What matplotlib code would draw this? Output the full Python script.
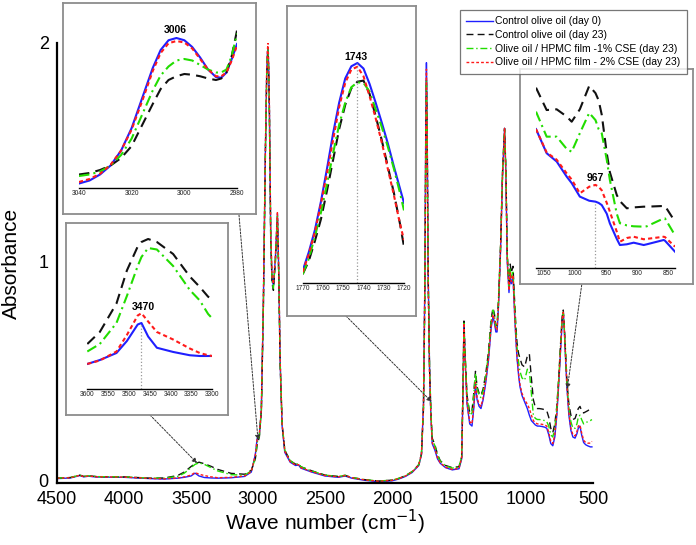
import numpy as np
import matplotlib
matplotlib.use('Agg')
import matplotlib.pyplot as plt

plt.rcParams['font.family'] = ['Liberation Sans', 'DejaVu Sans']

W, H = 696, 545

labels = ['Control olive oil (day 0)',
          'Control olive oil (day 23)',
          'Olive oil / HPMC film -1% CSE (day 23)',
          'Olive oil / HPMC film - 2% CSE (day 23)']
colors = ['#1f1fff', '#111111', '#22dd00', '#ff1a1a']
styles = ['-', (0, (5, 3)), (0, (5, 2, 1, 2)), (0, (2, 1.5))]

# full spectrum (wavenumber, absorbance) - blue, black, green, red
wn = [4500, 4400, 4330, 4300, 4265, 4200, 4000, 3800, 3700, 3600, 3550, 3500, 3470, 3440,
      3400, 3350, 3300, 3200, 3100, 3050, 3020, 3006, 2990, 2975, 2960, 2945, 2935, 2930, 2925,
      2920, 2915, 2905, 2895, 2885, 2870, 2855, 2845, 2835, 2820, 2800, 2760, 2720, 2697, 2680,
      2600, 2500, 2400, 2350, 2300, 2200, 2100, 2000, 1950, 1900, 1850, 1800, 1780, 1765,
      1755, 1748, 1743, 1738, 1730, 1720, 1710, 1700, 1680, 1660, 1640, 1600, 1550, 1500,
      1480, 1470, 1463, 1455, 1440, 1420, 1403, 1390, 1377, 1365, 1350, 1336, 1320, 1300,
      1280, 1260, 1246, 1235, 1225, 1216, 1205, 1190, 1175, 1160, 1150, 1140, 1127, 1118,
      1110, 1097, 1085, 1075, 1067, 1055, 1045, 1030, 1010, 990, 975, 960, 945, 930, 915,
      900, 880, 860, 845, 830, 815, 800, 785, 770, 755, 740, 730, 722, 715, 705, 694, 680,
      665, 650, 634, 620, 610, 597, 585, 570, 555, 540, 520, 508]

abs_day0 = [0.010, 0.013, 0.024, 0.018, 0.021, 0.017, 0.016, 0.010, 0.008, 0.012, 0.016, 0.022, 0.035, 0.022,
            0.015, 0.013, 0.012, 0.014, 0.020, 0.040, 0.120, 0.195, 0.210, 0.320, 0.800, 1.500, 1.860, 1.950, 1.980,
            1.880, 1.700, 1.120, 0.920, 0.890, 1.020, 1.220, 0.950, 0.550, 0.250, 0.130, 0.085, 0.070, 0.072, 0.058,
            0.040, 0.022, 0.016, 0.022, 0.012, 0.002, -0.004, 0.000, 0.008, 0.020, 0.038, 0.070, 0.120, 0.350,
            0.900, 1.620, 1.910, 1.650, 0.950, 0.520, 0.300, 0.170, 0.140, 0.100, 0.080, 0.060, 0.050, 0.055,
            0.100, 0.420, 0.720, 0.560, 0.350, 0.260, 0.250, 0.330, 0.440, 0.370, 0.340, 0.330, 0.370, 0.450,
            0.550, 0.700, 0.750, 0.720, 0.680, 0.680, 0.800, 1.050, 1.400, 1.610, 1.400, 1.000, 0.860, 0.940,
            0.900, 0.930, 0.760, 0.640, 0.560, 0.480, 0.430, 0.390, 0.360, 0.330, 0.300, 0.275, 0.265, 0.255, 0.250,
            0.250, 0.248, 0.245, 0.240, 0.210, 0.170, 0.160, 0.200, 0.300, 0.450, 0.620, 0.730, 0.770, 0.700, 0.560, 0.420, 0.300,
            0.230, 0.200, 0.195, 0.215, 0.240, 0.250, 0.210, 0.175, 0.165, 0.160, 0.155, 0.155]

abs_day23 = [0.012, 0.015, 0.026, 0.020, 0.023, 0.019, 0.018, 0.012, 0.013, 0.024, 0.040, 0.065, 0.078, 0.085,
             0.078, 0.066, 0.052, 0.034, 0.030, 0.048, 0.100, 0.165, 0.200, 0.320, 0.790, 1.480, 1.840, 1.930, 1.960,
             1.860, 1.680, 1.100, 0.900, 0.870, 1.000, 1.200, 0.930, 0.540, 0.260, 0.140, 0.092, 0.076, 0.078, 0.064,
             0.046, 0.026, 0.020, 0.025, 0.015, 0.005, -0.001, 0.003, 0.011, 0.023, 0.042, 0.074, 0.125, 0.330,
             0.850, 1.530, 1.830, 1.600, 0.920, 0.520, 0.320, 0.195, 0.165, 0.120, 0.092, 0.070, 0.060, 0.065,
             0.110, 0.430, 0.730, 0.590, 0.390, 0.310, 0.320, 0.400, 0.500, 0.430, 0.400, 0.390, 0.420, 0.490,
             0.590, 0.740, 0.790, 0.760, 0.710, 0.710, 0.830, 1.070, 1.410, 1.610, 1.420, 1.040, 0.900, 0.990,
             0.950, 0.980, 0.820, 0.700, 0.630, 0.580, 0.560, 0.530, 0.520, 0.570, 0.580, 0.470, 0.370, 0.335, 0.330,
             0.330, 0.328, 0.325, 0.320, 0.290, 0.240, 0.220, 0.260, 0.340, 0.480, 0.650, 0.750, 0.780, 0.720, 0.590, 0.450, 0.350,
             0.300, 0.280, 0.285, 0.310, 0.330, 0.340, 0.320, 0.310, 0.315, 0.320, 0.328, 0.335]

abs_cse1 = [0.012, 0.015, 0.026, 0.020, 0.023, 0.019, 0.018, 0.012, 0.012, 0.020, 0.035, 0.060, 0.075, 0.082,
            0.075, 0.060, 0.045, 0.028, 0.026, 0.045, 0.105, 0.175, 0.205, 0.320, 0.800, 1.490, 1.850, 1.940, 1.970,
            1.870, 1.690, 1.110, 0.910, 0.880, 1.010, 1.210, 0.940, 0.550, 0.260, 0.140, 0.092, 0.075, 0.078, 0.064,
            0.045, 0.026, 0.020, 0.025, 0.015, 0.005, -0.001, 0.003, 0.011, 0.023, 0.042, 0.074, 0.125, 0.340,
            0.860, 1.540, 1.830, 1.620, 0.950, 0.530, 0.320, 0.190, 0.160, 0.115, 0.090, 0.068, 0.058, 0.063,
            0.110, 0.430, 0.720, 0.580, 0.380, 0.300, 0.310, 0.390, 0.490, 0.420, 0.390, 0.380, 0.410, 0.480,
            0.580, 0.730, 0.780, 0.750, 0.700, 0.700, 0.820, 1.070, 1.410, 1.610, 1.410, 1.030, 0.890, 0.970,
            0.930, 0.960, 0.800, 0.680, 0.610, 0.540, 0.500, 0.470, 0.460, 0.510, 0.500, 0.400, 0.300, 0.285, 0.280,
            0.280, 0.278, 0.275, 0.270, 0.250, 0.210, 0.200, 0.240, 0.330, 0.470, 0.640, 0.740, 0.770, 0.710, 0.580, 0.440, 0.330,
            0.270, 0.240, 0.240, 0.260, 0.290, 0.300, 0.280, 0.260, 0.265, 0.270, 0.275, 0.280]

abs_cse2 = [0.012, 0.014, 0.025, 0.019, 0.022, 0.018, 0.017, 0.011, 0.009, 0.013, 0.018, 0.026, 0.038, 0.030,
            0.024, 0.018, 0.014, 0.016, 0.022, 0.042, 0.118, 0.192, 0.210, 0.330, 0.820, 1.520, 1.880, 1.970, 2.000,
            1.900, 1.720, 1.140, 0.930, 0.900, 1.030, 1.230, 0.960, 0.560, 0.260, 0.135, 0.088, 0.072, 0.074, 0.060,
            0.042, 0.024, 0.018, 0.024, 0.014, 0.004, -0.002, 0.002, 0.010, 0.022, 0.040, 0.072, 0.122, 0.350,
            0.900, 1.600, 1.880, 1.620, 0.920, 0.500, 0.300, 0.175, 0.145, 0.105, 0.082, 0.062, 0.052, 0.057,
            0.105, 0.420, 0.720, 0.560, 0.355, 0.270, 0.260, 0.340, 0.450, 0.380, 0.350, 0.340, 0.380, 0.460,
            0.560, 0.710, 0.760, 0.730, 0.690, 0.690, 0.810, 1.060, 1.400, 1.610, 1.400, 1.010, 0.870, 0.950,
            0.910, 0.940, 0.770, 0.650, 0.570, 0.490, 0.440, 0.400, 0.370, 0.350, 0.330, 0.300, 0.275, 0.265, 0.260,
            0.260, 0.258, 0.255, 0.250, 0.220, 0.180, 0.170, 0.210, 0.310, 0.460, 0.630, 0.740, 0.770, 0.710, 0.570, 0.430, 0.310,
            0.240, 0.210, 0.205, 0.225, 0.250, 0.255, 0.220, 0.185, 0.175, 0.172, 0.172, 0.180]

# inset 1: 3006 region (relative absorbance)
i1_wn = [3040, 3036, 3032, 3028, 3024, 3020, 3016, 3012, 3009, 3006, 3003, 3000, 2997, 2994,
         2991, 2988, 2986, 2984, 2982, 2980]
i1_day0 = [0.03, 0.05, 0.09, 0.15, 0.25, 0.40, 0.60, 0.80, 0.92, 0.985, 1.0, 0.985, 0.94, 0.87,
           0.79, 0.74, 0.735, 0.77, 0.86, 0.96]
i1_day23 = [0.09, 0.10, 0.12, 0.15, 0.20, 0.28, 0.42, 0.56, 0.66, 0.72, 0.745, 0.76, 0.755, 0.745,
            0.73, 0.72, 0.73, 0.77, 0.88, 1.05]
i1_cse1 = [0.08, 0.09, 0.11, 0.15, 0.22, 0.33, 0.49, 0.65, 0.75, 0.81, 0.85, 0.86, 0.85, 0.82,
           0.79, 0.77, 0.77, 0.79, 0.88, 1.03]
i1_cse2 = [0.04, 0.06, 0.095, 0.155, 0.25, 0.39, 0.58, 0.78, 0.90, 0.965, 0.98, 0.97, 0.93, 0.86,
           0.79, 0.745, 0.745, 0.77, 0.85, 0.95]

# inset 2: 3470 region
i2_wn = [3600, 3570, 3530, 3505, 3479, 3470, 3454, 3433, 3394, 3354, 3330, 3310, 3300]
i2_day0 = [0.167, 0.193, 0.24, 0.32, 0.43, 0.44, 0.35, 0.275, 0.247, 0.225, 0.22, 0.22, 0.22]
i2_day23 = [0.30, 0.38, 0.57, 0.79, 0.95, 0.98, 1.00, 0.98, 0.90, 0.75, 0.68, 0.615, 0.60]
i2_cse1 = [0.25, 0.30, 0.44, 0.62, 0.82, 0.88, 0.94, 0.93, 0.82, 0.66, 0.59, 0.50, 0.47]
i2_cse2 = [0.167, 0.19, 0.25, 0.36, 0.49, 0.505, 0.45, 0.38, 0.33, 0.27, 0.24, 0.225, 0.22]

# inset 3: 1743 region
i3_wn = [1770, 1767, 1764, 1761, 1758, 1755, 1752, 1749, 1746, 1743, 1740, 1737, 1734, 1731,
         1728, 1725, 1722, 1720]
i3_day0 = [0.056, 0.14, 0.24, 0.37, 0.52, 0.68, 0.82, 0.93, 0.985, 1.0, 0.975, 0.905, 0.82, 0.73,
           0.635, 0.53, 0.43, 0.364]
i3_day23 = [0.04, 0.10, 0.19, 0.29, 0.42, 0.56, 0.70, 0.81, 0.885, 0.915, 0.92, 0.86, 0.76, 0.65,
            0.53, 0.41, 0.27, 0.165]
i3_cse1 = [0.04, 0.11, 0.21, 0.32, 0.45, 0.59, 0.72, 0.82, 0.89, 0.912, 0.91, 0.87, 0.79, 0.71,
           0.62, 0.52, 0.41, 0.33]
i3_cse2 = [0.05, 0.13, 0.23, 0.36, 0.50, 0.65, 0.80, 0.91, 0.97, 0.983, 0.94, 0.85, 0.75, 0.64,
           0.52, 0.40, 0.27, 0.195]

# inset 4: 967 region
i4_wn = [1062, 1045, 1029, 1013, 1005, 992, 977, 967, 962, 957, 949, 944, 933, 928, 917, 906, 890, 885, 858, 856, 840]
i4_day0 = [0.77, 0.636, 0.59, 0.506, 0.47, 0.395, 0.372, 0.367, 0.36, 0.348, 0.30, 0.246, 0.16, 0.126, 0.13, 0.139, 0.126, 0.13, 0.154, 0.15, 0.089]
i4_day23 = [1.00, 0.876, 0.88, 0.84, 0.811, 0.88, 1.01, 0.97, 0.93, 0.85, 0.636, 0.53, 0.404, 0.37, 0.33, 0.335, 0.339, 0.339, 0.343, 0.343, 0.256]
i4_cse1 = [0.867, 0.728, 0.728, 0.66, 0.644, 0.747, 0.86, 0.82, 0.77, 0.747, 0.60, 0.487, 0.30, 0.247, 0.235, 0.23, 0.228, 0.23, 0.274, 0.274, 0.18]
i4_cse2 = [0.77, 0.64, 0.60, 0.524, 0.49, 0.413, 0.45, 0.46, 0.45, 0.43, 0.36, 0.311, 0.20, 0.144, 0.165, 0.172, 0.158, 0.16, 0.172, 0.17, 0.117]


def px_box(x0, y0, x1, y1):
    return [x0 / W, 1 - y1 / H, (x1 - x0) / W, (y1 - y0) / H]


fig = plt.figure(figsize=(W / 100, H / 100), dpi=100)
ax = fig.add_axes(px_box(57, 43, 593, 483))

series = [abs_day0, abs_day23, abs_cse1, abs_cse2]
for s, c, ls, lab in zip(series, colors, styles, labels):
    ax.plot(wn, s, color=c, linestyle=ls, lw=1.0, label=lab)

ax.set_xlim(4500, 500)
ax.set_ylim(-0.01, 2.0)
ax.set_xticks([4500, 4000, 3500, 3000, 2500, 2000, 1500, 1000, 500])
ax.set_yticks([0, 1, 2])
ax.tick_params(length=0, labelsize=13, pad=6)
for side in ['top', 'right']:
    ax.spines[side].set_visible(False)
for side in ['left', 'bottom']:
    ax.spines[side].set_linewidth(1.6)
ax.set_xlabel('Wave number (cm$^{-1}$)', fontsize=15)
ax.set_ylabel('Absorbance', fontsize=15)
ax.yaxis.set_label_coords(-0.068, 0.5)
ax.xaxis.set_label_coords(0.5, -0.057)

leg = fig.legend(loc='upper right', bbox_to_anchor=(692 / W, 1 - 5 / H), fontsize=7.5,
                 frameon=True, fancybox=False, edgecolor='#555555', handlelength=2.6,
                 handletextpad=0.2, labelspacing=0.35, borderpad=0.6)
leg.get_frame().set_linewidth(0.9)


def make_inset(box, inner, xlim, ticks, ylim=(0, 1.1)):
    bax = fig.add_axes(px_box(*box))
    bax.set_xticks([])
    bax.set_yticks([])
    bax.set_facecolor('white')
    for sp in bax.spines.values():
        sp.set_color('#8c8c8c')
        sp.set_linewidth(1.3)
    bax.set_zorder(3)
    iax = fig.add_axes(px_box(*inner))
    iax.set_zorder(4)
    iax.patch.set_visible(False)
    for side in ['top', 'right', 'left']:
        iax.spines[side].set_visible(False)
    iax.spines['bottom'].set_linewidth(1.0)
    iax.set_xlim(*xlim)
    iax.set_ylim(*ylim)
    iax.set_yticks([])
    iax.set_xticks(ticks)
    iax.tick_params(length=0, labelsize=4.8, pad=1.5, labelcolor='#222222')
    return iax


insets = [
    ((63, 3, 256, 214), (79, 23, 237, 188), (3040, 2980), [3040, 3020, 3000, 2980],
     i1_wn, [i1_day0, i1_day23, i1_cse1, i1_cse2]),
    ((66, 223, 228, 415), (87.3, 224, 212.3, 389), (3600, 3300), [3600, 3550, 3500, 3450, 3400, 3350, 3300],
     i2_wn, [i2_day0, i2_day23, i2_cse1, i2_cse2]),
    ((287, 6, 416, 316), (302.7, 41, 404, 283), (1770, 1720), [1770, 1760, 1750, 1740, 1730, 1720],
     i3_wn, [i3_day0, i3_day23, i3_cse1, i3_cse2]),
    ((520, 69, 693, 284), (536, 69.7, 675, 267.7), (1062, 840), [1050, 1000, 950, 900, 850],
     i4_wn, [i4_day0, i4_day23, i4_cse1, i4_cse2]),
]

inset_axes = []
for box, inner, xlim, ticks, x, ys in insets:
    iax = make_inset(box, inner, xlim, ticks)
    for y, c, ls in zip(ys, colors, styles):
        iax.plot(x, y, color=c, linestyle=ls, lw=1.5)
    inset_axes.append(iax)

# peak labels and guide lines
a1, a2, a3, a4 = inset_axes
a1.text(3003.5, 1.053, '3006', fontsize=7.5, fontweight='bold', ha='center', va='center')
a2.text(3466, 0.547, '3470', fontsize=7.5, fontweight='bold', ha='center', va='center')
a2.vlines(3470, 0, 0.44, color='#999999', linestyle=':', lw=0.9)
a3.text(1743.6, 1.027, '1743', fontsize=7.5, fontweight='bold', ha='center', va='center')
a3.vlines(1743, 0, 1.0, color='#999999', linestyle=':', lw=0.9)
a4.text(967.5, 0.498, '967', fontsize=7.5, fontweight='bold', ha='center', va='center')
a4.vlines(967, 0, 0.367, color='#999999', linestyle=':', lw=0.9)

# arrows from inset boxes to the spectrum
arrows = [((3000, 0.186), (239, 215)), ((3455, 0.081), (150, 415)),
          ((1704, 0.361), (346, 316)), ((692, 0.42), (581.7, 285))]
for target, start in arrows:
    ax.annotate('', xy=target, xycoords='data', xytext=(start[0], H - start[1]),
                textcoords='figure pixels', annotation_clip=False,
                arrowprops=dict(arrowstyle='-|>', color='#333333', lw=0.7,
                                linestyle=(0, (2, 1.5)), mutation_scale=7,
                                shrinkA=0, shrinkB=0))

fig.savefig('out.png', dpi=100)
